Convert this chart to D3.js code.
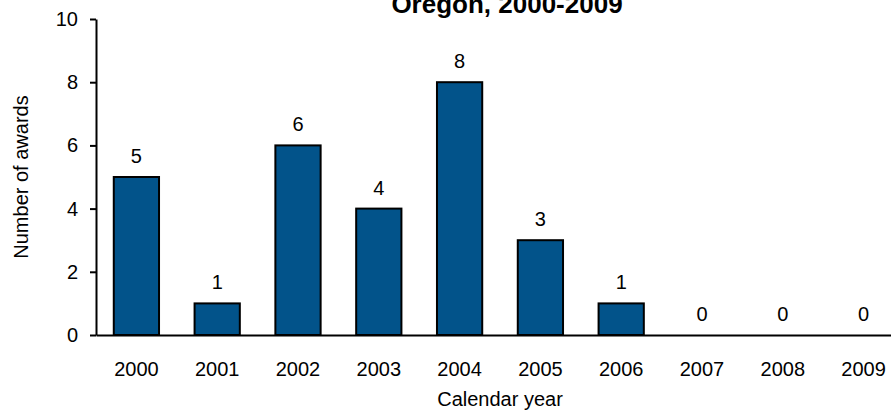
<!DOCTYPE html>
<html>
<head>
<meta charset="utf-8">
<script src="https://cdn.jsdelivr.net/npm/d3@7/dist/d3.min.js"></script>
<style>
  html, body { margin: 0; padding: 0; background: #fff; }
  svg { display: block; font-family: "Liberation Sans", Arial, sans-serif; }
</style>
</head>
<body>
<svg id="chart" width="891" height="411"></svg>
<script>
// Awards per calendar year
const years = ["2000", "2001", "2002", "2003", "2004", "2005", "2006", "2007", "2008", "2009"];
const awards = [5, 1, 6, 4, 8, 3, 1, 0, 0, 0];
const yTicks = [0, 2, 4, 6, 8, 10];
const titleText = "Oregon, 2000-2009";
const xTitle = "Calendar year";
const yTitle = "Number of awards";

const svg = d3.select("#chart");
const plotLeft = 96, plotRight = 904, plotTop = 19, plotBottom = 335;

const x = d3.scaleBand()
  .domain(years)
  .range([plotLeft, plotRight])
  .paddingInner(0.44)
  .paddingOuter(0.22);

const y = d3.scaleLinear().domain([0, 10]).range([plotBottom, plotTop]);

const rows = years.map((yr, i) => ({ yr, v: awards[i] }));

// Bars
svg.append("g")
  .selectAll("rect")
  .data(rows.filter(d => d.v > 0))
  .join("rect")
  .attr("x", d => x(d.yr))
  .attr("y", d => y(d.v))
  .attr("width", x.bandwidth())
  .attr("height", d => y(0) - y(d.v))
  .attr("fill", "#02538A")
  .attr("stroke", "#000")
  .attr("stroke-width", 2);

// Value labels
svg.append("g")
  .selectAll("text")
  .data(rows)
  .join("text")
  .attr("x", d => x(d.yr) + x.bandwidth() / 2)
  .attr("y", d => y(d.v) - 14)
  .attr("text-anchor", "middle")
  .attr("font-size", 20)
  .attr("fill", "#000")
  .text(d => d.v);

// Y axis
const yAxis = svg.append("g")
  .attr("transform", `translate(${plotLeft},0)`)
  .call(d3.axisLeft(y).tickValues(yTicks).tickSize(6).tickSizeOuter(0).tickPadding(12));
yAxis.select(".domain").attr("stroke", "#000").attr("stroke-width", 2);
yAxis.selectAll(".tick line").attr("stroke", "#000").attr("stroke-width", 2);
yAxis.selectAll(".tick text").attr("font-size", 20).attr("font-family", "Liberation Sans, Arial, sans-serif").attr("fill", "#000");

// X axis
const xAxis = svg.append("g")
  .attr("transform", `translate(0,${plotBottom})`)
  .call(d3.axisBottom(x).tickSize(0).tickSizeOuter(0).tickPadding(27));
xAxis.select(".domain").attr("stroke", "#000").attr("stroke-width", 2);
xAxis.selectAll(".tick text").attr("font-size", 20).attr("font-family", "Liberation Sans, Arial, sans-serif").attr("fill", "#000");

// Titles
svg.append("text")
  .attr("x", 507).attr("y", 13)
  .attr("text-anchor", "middle")
  .attr("font-size", 26).attr("font-weight", "bold")
  .text(titleText);

svg.append("text")
  .attr("x", 500).attr("y", 406)
  .attr("text-anchor", "middle")
  .attr("font-size", 20)
  .text(xTitle);

svg.append("text")
  .attr("transform", `translate(28,${(plotTop + plotBottom) / 2}) rotate(-90)`)
  .attr("text-anchor", "middle")
  .attr("font-size", 20)
  .text(yTitle);
</script>
</body>
</html>
